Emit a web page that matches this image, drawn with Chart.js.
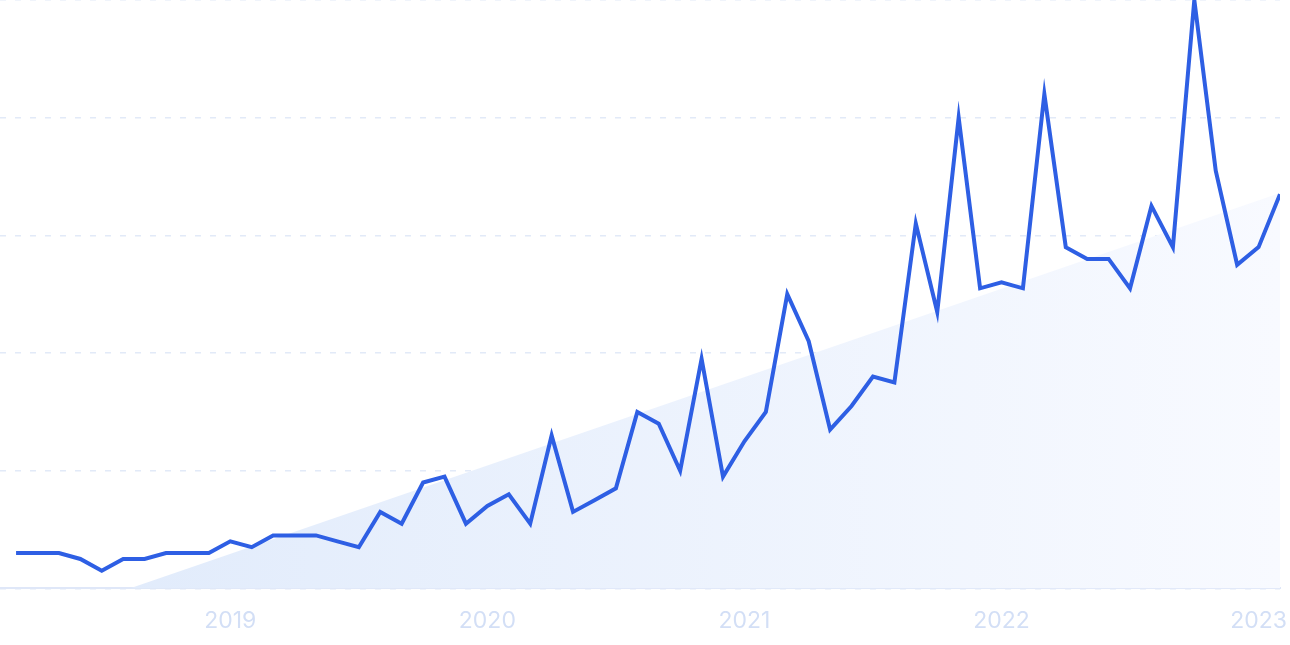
<!DOCTYPE html>
<html>
<head>
<meta charset="utf-8">
<script src="https://cdn.jsdelivr.net/npm/chart.js@4"></script>
<style>
  html, body { margin: 0; padding: 0; background: #fff; }
  #wrap { width: 1290px; height: 645px; position: relative; }
</style>
</head>
<body>
<div id="wrap"><canvas id="chart"></canvas></div>
<script>
// monthly values, Mar 2018 .. Feb 2023 (index 0 = Mar 2018)
const values = [
  6, 6, 6, 5, 3, 5, 5, 6, 6, 6,
  8, 7, 9, 9, 9, 8, 7, 13, 11, 18,
  19, 11, 14, 16, 11, 26, 13, 15, 17, 30,
  28, 20, 39, 19, 25, 30, 50, 42, 27, 31,
  36, 35, 62, 47, 80, 51, 52, 51, 84, 58,
  56, 56, 51, 65, 58, 100, 71, 55, 58, 67
];
// year labels sit on the January points
const yearTicks = [10, 22, 34, 46, 58];
const yearLabels = ["2019", "2020", "2021", "2022", "2023"];
// trend band: start and end of the shaded wedge
const trendX = [5.3, 59];
const trendY = [0, 67.2];

const ctx = document.getElementById("chart");

new Chart(ctx, {
  type: "line",
  data: {
    datasets: [
      {
        label: "Trend",
        data: trendX.map((x, i) => ({ x, y: trendY[i] })),
        borderWidth: 0,
        pointRadius: 0,
        fill: "origin",
        backgroundColor: (c) => {
          const area = c.chart.chartArea;
          if (!area) return "#eaf1fc";
          const g = c.chart.ctx.createLinearGradient(area.left, 0, area.right, 0);
          g.addColorStop(0, "#dfeafb");
          g.addColorStop(1, "#f8faff");
          return g;
        },
        order: 2,
      },
      {
        label: "Searches",
        data: values.map((v, i) => ({ x: i, y: v })),
        borderColor: "#2e5fe4",
        borderWidth: 4,
        pointRadius: 0,
        tension: 0,
        fill: false,
        order: 1,
      },
    ],
  },
  options: {
    responsive: true,
    maintainAspectRatio: false,
    animation: false,
    layout: { padding: 0 },
    plugins: { legend: { display: false }, tooltip: { enabled: false } },
    scales: {
      x: {
        type: "linear",
        min: -0.75,
        max: 59,
        afterBuildTicks: (axis) => {
          axis.ticks = yearTicks.map((v) => ({ value: v }));
        },
        afterFit: (axis) => {
          axis.paddingRight = 10;
        },
        ticks: {
          autoSkip: false,
          maxRotation: 0,
          padding: 10.5,
          color: "#d3dff6",
          font: { family: "Inter", size: 23 },
          callback: (v) => yearLabels[yearTicks.indexOf(v)],
        },
        grid: { display: false },
        border: { display: true, color: "#dfe7f8", width: 2 },
      },
      y: {
        min: 0,
        max: 100,
        display: true,
        ticks: { display: false, stepSize: 20 },
        grid: {
          color: "#e2eaf8",
          lineWidth: 1.5,
          drawTicks: false,
        },
        border: { display: false, dash: [6, 9] },
      },
    },
  },
});
</script>
</body>
</html>
